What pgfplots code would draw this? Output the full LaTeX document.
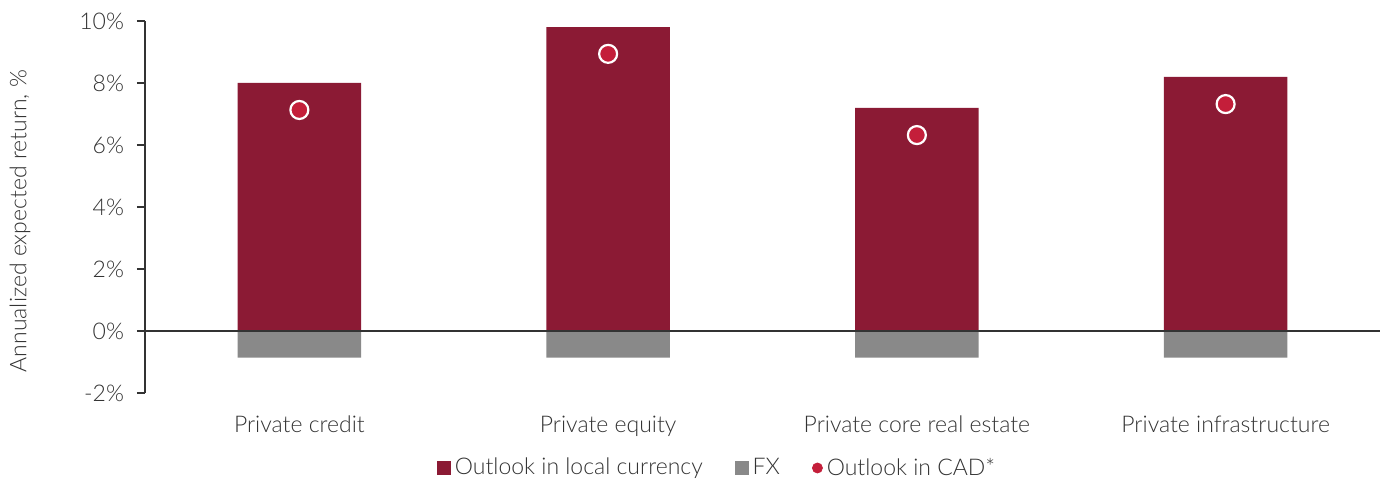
\documentclass[border=0pt]{standalone}
\usepackage{fontspec}
\setmainfont{Lato}[UprightFont={* Light}]
\usepackage{pgfplots}
\pgfplotsset{compat=1.18}
\definecolor{barred}{HTML}{8B1A34}
\definecolor{fxgray}{HTML}{898989}
\definecolor{dotred}{HTML}{C41E3A}
\definecolor{txt}{HTML}{333333}
\begin{document}
\begin{tikzpicture}
\begin{axis}[
  scale only axis, width=617.5pt, height=186pt,
  xmin=-0.5, xmax=3.5, ymin=-2, ymax=10,
  axis lines*=left,
  x axis line style={draw=none},
  y axis line style={draw=txt, line width=0.6pt},
  ytick={-2,0,2,4,6,8,10},
  yticklabel={\pgfmathprintnumber{\tick}\%},
  /pgf/number format/assume math mode=true,
  tick align=outside, major tick length=4pt,
  ytick style={draw=txt, line width=0.6pt},
  xtick={0,1,2,3},
  xticklabels={Private credit, Private equity, Private core real estate, Private infrastructure},
  xtick style={draw=none},
  ticklabel style={font=\fontsize{11.5}{13}\selectfont, text=txt},
  y tick label style={xshift=-3pt},
  x tick label style={yshift=-4pt},
  ylabel={Annualized expected return, \%},
  ylabel style={at={(axis description cs:-0.1012,0.462)}, anchor=center, font=\fontsize{11.5}{13}\selectfont, text=txt},
  legend columns=3,
  legend style={at={(0.464,-0.2016)}, anchor=center, draw=none, fill=none,
    font=\fontsize{11.5}{13}\selectfont, text=txt,
    /tikz/every even column/.append style={column sep=14pt}},
  clip=false,
]
\addplot[ybar, bar width=0.4, bar shift=0pt, fill=barred, draw=none,
  legend image code/.code={\fill[barred] (0pt,-3.5pt) rectangle (7pt,3.5pt);}]
  coordinates {(0,8.0) (1,9.8) (2,7.2) (3,8.2)};
\addlegendentry{Outlook in local currency}
\addplot[ybar, bar width=0.4, bar shift=0pt, fill=fxgray, draw=none,
  legend image code/.code={\fill[fxgray] (0pt,-3.5pt) rectangle (7pt,3.5pt);}]
  coordinates {(0,-0.86) (1,-0.86) (2,-0.86) (3,-0.86)};
\addlegendentry{FX}
\addplot[txt, line width=0.6pt, forget plot] coordinates {(-0.5,0) (3.5,0)};
\addplot[only marks, mark=*, mark size=4.5pt,
  mark options={fill=dotred, draw=white, line width=1.1pt},
  legend image code/.code={\fill[dotred] (3.5pt,0pt) circle (2.5pt);}]
  coordinates {(0,7.13) (1,8.94) (2,6.32) (3,7.32)};
\addlegendentry{Outlook in CAD*}
\end{axis}
\pgfresetboundingbox
\path (-72.5pt,-43.5pt) rectangle (618.5pt,196.5pt);
\end{tikzpicture}
\end{document}
